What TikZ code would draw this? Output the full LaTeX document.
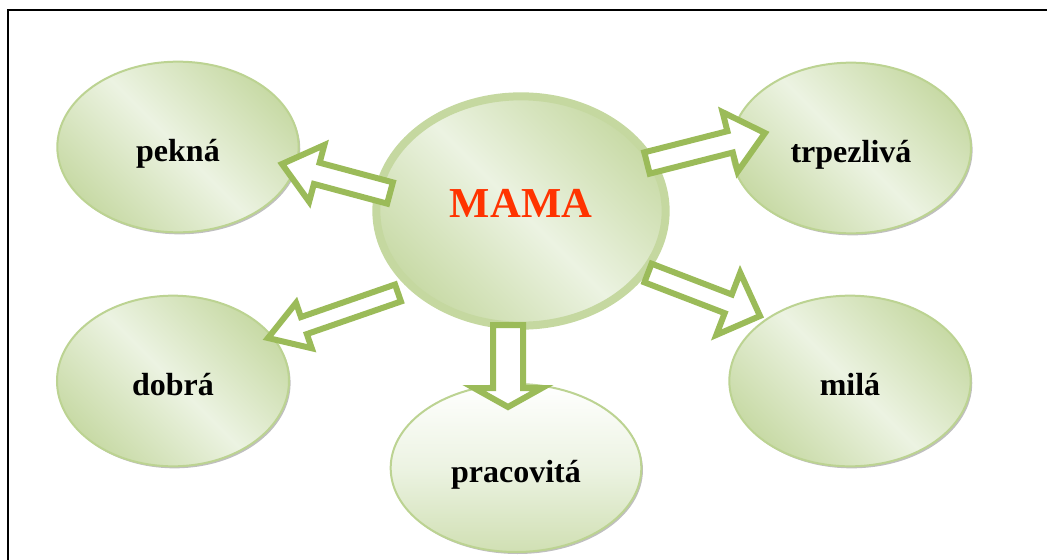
\documentclass[tikz,border=0pt]{standalone}
\usepackage{fontspec}
\setmainfont{Liberation Serif}
\usetikzlibrary{shapes.geometric,calc,shadows}
\definecolor{oval_light}{RGB}{236,243,226}
\definecolor{oval_dark}{RGB}{200,218,166}
\definecolor{oval_edge}{RGB}{188,211,146}
\definecolor{hub_edge}{RGB}{197,216,160}
\definecolor{arrow_green}{RGB}{155,187,89}
\definecolor{mama_red}{RGB}{255,51,0}

% hollow block arrow: tail, tip, shaft half width, head half width, head length
\newcommand{\blockarrow}[5]{%
  \draw[blockarr] ($(#1)!#3!90:(#2)$) -- ($(#2)!#5!(#1)!#3!-90:(#1)$)
    -- ($(#2)!#5!(#1)!#4!-90:(#1)$) -- (#2) -- ($(#2)!#5!(#1)!#4!90:(#1)$)
    -- ($(#2)!#5!(#1)!#3!90:(#1)$) -- ($(#1)!#3!-90:(#2)$) -- cycle;}

\begin{document}
\begin{tikzpicture}[x=0.75pt,y=-0.75pt]
    \tikzstyle{oval}=[ellipse, draw=oval_edge, line width=1.5pt, inner sep=0pt,
      top color=oval_dark, bottom color=oval_dark, middle color=oval_light, shading angle=-45,
      drop shadow={shadow xshift=1.2pt, shadow yshift=-1.5pt, fill=black!50},
      text height=27pt, text depth=5pt, font=\fontsize{24}{28}\selectfont\bfseries]
    \tikzstyle{hub}=[style=oval, draw=hub_edge, line width=6pt, text=mama_red,
      text height=14pt, text depth=5pt, font=\fontsize{32}{38}\selectfont\bfseries]
    \tikzstyle{blockarr}=[draw=arrow_green, line width=4.5pt, fill=white, line join=miter, miter limit=10]
    \tikzstyle{pageframe}=[line width=2.2pt, black]

    \useasboundingbox (0,0) rectangle (1047,560);
    \draw[pageframe] (8,560) -- (8,10) -- (1047,10);

    \node[hub, minimum width=217pt, minimum height=172pt] (mama) at (521,211) {MAMA};
    \node[oval, minimum width=181pt, minimum height=128pt] (pekna) at (178,147) {pekná};
    \node[oval, minimum width=180pt, minimum height=128pt] (trpezliva) at (851,148) {trpezlivá};
    \node[oval, minimum width=174pt, minimum height=128pt] (dobra) at (173,381) {dobrá};
    \node[oval, minimum width=181pt, minimum height=128pt] (mila) at (850,381) {milá};
    \node[oval, minimum width=188pt, minimum height=126pt, shading angle=0,
      top color=white, bottom color=oval_dark!85, middle color=oval_light] (pracovita) at (516,468) {pracovitá};

    % arrow ends
    \coordinate (mama-p) at ($(mama)+(-131,-18)$);
    \coordinate (pekna-in) at ($(pekna)+(104,17)$);
    \coordinate (mama-t) at ($(mama)+(126,-48)$);
    \coordinate (trpezliva-in) at ($(trpezliva)+(-86,-15)$);
    \coordinate (mama-m) at ($(mama)+(127,62)$);
    \coordinate (mila-in) at ($(mila)+(-90,-65)$);
    \coordinate (mama-d) at ($(mama)+(-123,82)$);
    \coordinate (dobra-in) at ($(dobra)+(95,-43)$);
    \coordinate (mama-c) at ($(mama)+(-13,114)$);
    \coordinate (pracovita-in) at ($(pracovita)+(-8,-61)$);

    \blockarrow{mama-p}{pekna-in}{8.25pt}{22pt}{27pt}
    \blockarrow{mama-t}{trpezliva-in}{8.25pt}{23pt}{27pt}
    \blockarrow{mama-m}{mila-in}{7.5pt}{25pt}{25.5pt}
    \blockarrow{mama-d}{dobra-in}{6.75pt}{18pt}{28.5pt}
    \blockarrow{mama-c}{pracovita-in}{11.25pt}{25.5pt}{14.25pt}
\end{tikzpicture}
\end{document}
